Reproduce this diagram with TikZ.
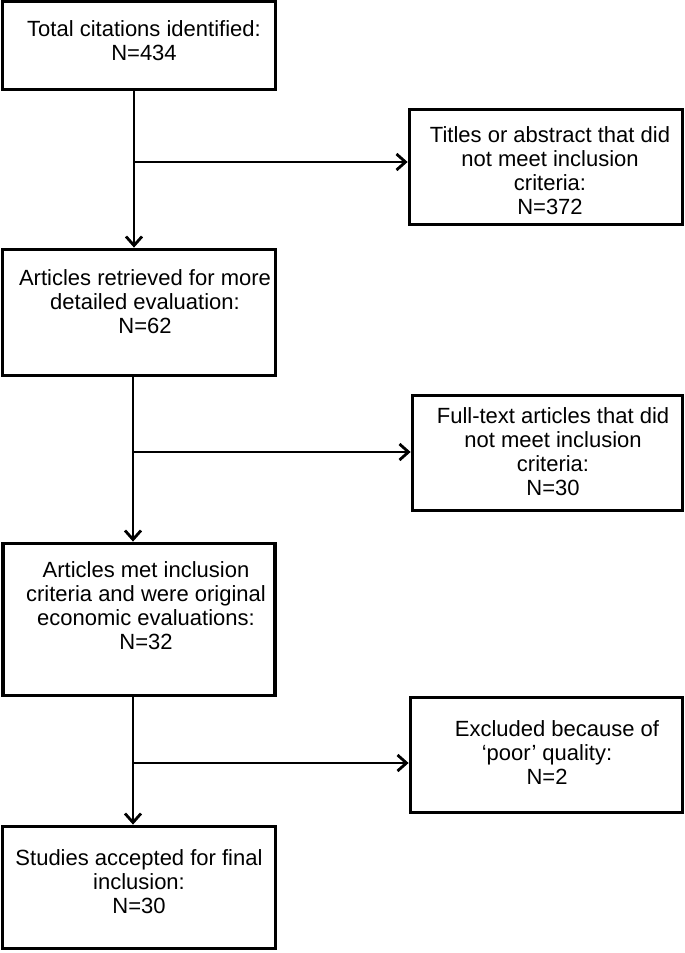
\documentclass[tikz,border=0pt]{standalone}
\usepackage{fontspec}
\setmainfont{Liberation Sans}
\usetikzlibrary{arrows.meta}
\begin{document}
\begin{tikzpicture}[x=1pt,y=-1pt,
  boxnode/.style={draw, line width=3.8pt, inner sep=0pt},
  txt/.style={anchor=north, inner sep=0pt, align=center,
    font=\fontsize{22pt}{24pt}\selectfont},
  arr/.style={line width=2.8pt, -{Straight Barb[length=9pt,width=16pt]}},
  ln/.style={line width=2.8pt}]
\useasboundingbox (0,0) rectangle (685,953);
% boxes
\node[boxnode, minimum width=273pt, minimum height=88pt] (b1) at (139,45.5) {};
\node[boxnode, minimum width=273pt, minimum height=115pt] (b2) at (546,167) {};
\node[boxnode, minimum width=273pt, minimum height=126pt] (b3) at (139,312.5) {};
\node[boxnode, minimum width=270pt, minimum height=115pt] (b4) at (547.5,453) {};
\node[boxnode, minimum width=272pt, minimum height=152pt] (b5) at (139,619.5) {};
\node[boxnode, minimum width=272pt, minimum height=115pt] (b6) at (546.5,755) {};
\node[boxnode, minimum width=273pt, minimum height=122pt] (b7) at (139,887.5) {};
% texts
\node[txt] (t1) at (144,20.5) {Total citations identified:\\N=434};
\node[txt] (t2) at (550,126.5) {Titles or abstract that did\\not meet inclusion\\criteria:\\N=372};
\node[txt] (t3) at (145,269.5) {Articles retrieved for more\\detailed evaluation:\\N=62};
\node[txt] (t4) at (553,407.5) {Full-text articles that did\\not meet inclusion\\criteria:\\N=30};
\node[txt] (t5) at (146,561.5) {Articles met inclusion\\criteria and were original\\economic evaluations:\\N=32};
\node[txt] (t6) at (547,720) {\hspace*{20pt}Excluded because of\\‘poor’ quality:\\N=2};
\node[txt] (t7) at (139,849.5) {Studies accepted for final\\inclusion:\\N=30};
% junctions
\coordinate (j1) at (134,162);
\coordinate (j2) at (133,452);
\coordinate (j3) at (133,763);
% connectors
\draw[arr] (j1 |- b1.south) -- (j1 |- b3.north);
\draw[arr] (j1) -- (j1 -| b2.west);
\draw[arr] (j2 |- b3.south) -- (j2 |- b5.north);
\draw[arr] (j2) -- (j2 -| b4.west);
\draw[arr] (j3 |- b5.south) -- (j3 |- b7.north);
\draw[arr] (j3) -- (j3 -| b6.west);
\end{tikzpicture}
\end{document}
